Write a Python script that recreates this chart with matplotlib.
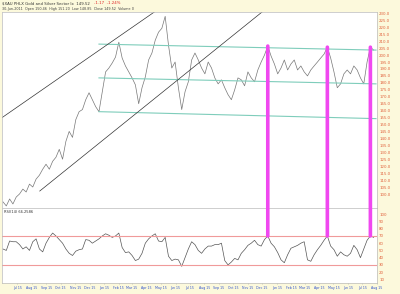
import numpy as np
import pandas as pd
import matplotlib
matplotlib.use("Agg")
import matplotlib.pyplot as plt
import matplotlib.dates as mdates
from matplotlib.patches import ConnectionPatch

# weekly closes
price = [94.4, 91.5, 96.5, 92.9, 97.9, 100.1, 103.6, 101.5, 107.2, 105.1,
         110.8, 113.6, 117.9, 121.5, 117.9, 123.6, 126.5, 132.2, 125.1, 137.9,
         145.1, 140.8, 153.6, 159.3, 160.8, 167.9, 172.9, 167.9, 162.9, 159.3,
         173.6, 187.9, 190.7, 194.3, 198.6, 209.3, 197.9, 192.2, 187.9, 183.6,
         178.6, 165.0, 176.5, 184.3, 196.5, 201.5, 210.7, 216.5, 219.3, 227.9,
         207.2, 190.7, 195.0, 176.5, 160.8, 173.6, 180.8, 196.5, 201.5, 196.5,
         190.7, 186.5, 195.0, 190.7, 183.6, 179.3, 182.2, 176.5, 171.5, 167.9,
         175.0, 183.6, 182.2, 177.9, 187.9, 183.6, 180.8, 189.3, 195.0, 200.0,
         206.5, 199.3, 193.6, 186.5, 190.7, 196.5, 189.3, 193.6, 196.5, 189.3,
         192.2, 187.9, 185.0, 189.3, 192.2, 195.0, 197.9, 200.7, 205.7, 197.9,
         187.9, 176.5, 179.3, 186.5, 189.3, 186.5, 192.2, 189.3, 183.6, 179.3,
         195.0, 205.7, 203.6]

rsi = [52, 50, 63, 62, 62, 58, 52, 55, 50, 62,
       66, 52, 48, 60, 68, 74, 70, 65, 60, 52,
       46, 43, 49, 51, 52, 65, 64, 60, 63, 66,
       70, 73, 71, 68, 70, 74, 54, 47, 48, 43,
       36, 38, 46, 60, 66, 70, 73, 63, 62, 68,
       42, 36, 38, 37, 28, 40, 52, 62, 58, 50,
       46, 52, 56, 56, 58, 58, 60, 36, 30, 34,
       39, 37, 46, 51, 57, 60, 64, 58, 56, 65,
       70, 60, 55, 47, 37, 33, 44, 53, 55, 57,
       60, 62, 37, 35, 44, 51, 57, 64, 70, 56,
       51, 42, 48, 44, 42, 46, 57, 51, 40, 52,
       64, 70, 68]

dates = pd.date_range("2009-06-15", periods=len(price), freq="W-MON")

# signal weeks (magenta)
signal_idx = [80, 98, 111]

# channel lines: (start week, start price, end week, end price)
green_lines = [(29, 207.9, 112.7, 203.6),
               (29, 183.6, 112.7, 179.3),
               (29, 159.3, 112.7, 154.3)]
black_lines = [(-0.3, 155.0, 47.3, 233.6),
               (11.1, 102.2, 78.9, 232.2)]

price_ticks = np.arange(100, 231, 5)
rsi_ticks = np.arange(10, 101, 10)

start = dates[0]
def wk(w):
    return mdates.date2num(start + pd.Timedelta(days=7 * w))

bg = "#fcf9dc"
lab_col = "#e0603a"
fig = plt.figure(figsize=(4.0, 2.94), dpi=100, facecolor=bg)
ax1 = fig.add_axes([0.005, 0.2925, 0.9375, 0.6667])
ax2 = fig.add_axes([0.005, 0.0374, 0.9375, 0.2551], sharex=ax1)

ax1.plot(dates, price, color="#777777", lw=0.5)
for w0, p0, w1, p1 in green_lines:
    ax1.plot([wk(w0), wk(w1)], [p0, p1], color="#7fcdbb", lw=0.8)
for w0, p0, w1, p1 in black_lines:
    ax1.plot([wk(w0), wk(w1)], [p0, p1], color="#333333", lw=0.5)
ax1.set_ylim(90, 231)
ax1.set_yticks(price_ticks)
ax1.set_yticklabels([f"{v:.1f}" for v in price_ticks])

ax2.plot(dates, rsi, color="#555555", lw=0.5)
ax2.axhline(70, color="#f09a9a", lw=0.8)
ax2.axhline(30, color="#f09a9a", lw=0.8)
ax2.set_ylim(5, 108.6)
ax2.set_yticks(rsi_ticks)
ax2.text(0.004, 0.97, "RSI(14) 66.2586", transform=ax2.transAxes,
         fontsize=2.6, va="top", ha="left", color="#333333")

ax1.set_xlim(wk(-0.3), wk(112.8))

for ax in (ax1, ax2):
    ax.set_facecolor("white")
    ax.yaxis.tick_right()
    ax.tick_params(axis="y", length=0, pad=1.5, labelsize=2.8, labelcolor=lab_col)
    for s in ax.spines.values():
        s.set_color("#bbbbbb")
        s.set_linewidth(0.5)

ax1.tick_params(axis="x", length=0, labelbottom=False)
months = pd.date_range("2009-06-15", "2011-08-15", freq="MS") + pd.Timedelta(days=14)
ax2.set_xticks(months)
ax2.xaxis.set_major_formatter(mdates.DateFormatter("%b %d"))
ax2.tick_params(axis="x", length=1, width=0.4, pad=1, labelsize=2.3,
                labelcolor="#3355cc", color="#aaaaaa")

for i in signal_idx:
    x = mdates.date2num(dates[i])
    con = ConnectionPatch(xyA=(x, price[i]), coordsA=ax1.transData,
                          xyB=(x, rsi[i]), coordsB=ax2.transData,
                          color="#f048f0", lw=2.6, zorder=10)
    fig.add_artist(con)

fig.text(0.005, 0.995, "$XAU PHLX Gold and Silver Sector Ix  149.52",
         fontsize=2.8, va="top", ha="left", color="#333333")
fig.text(0.235, 0.995, "-1.17  -1.24%", fontsize=2.8, va="top", ha="left",
         color="#dd2222")
fig.text(0.005, 0.975, "30-Jun-2011  Open 150.46  High 151.20  Low 148.85  Close 149.52  Volume 0",
         fontsize=2.4, va="top", ha="left", color="#444444")

fig.savefig("out.png", dpi=100, facecolor=bg)
